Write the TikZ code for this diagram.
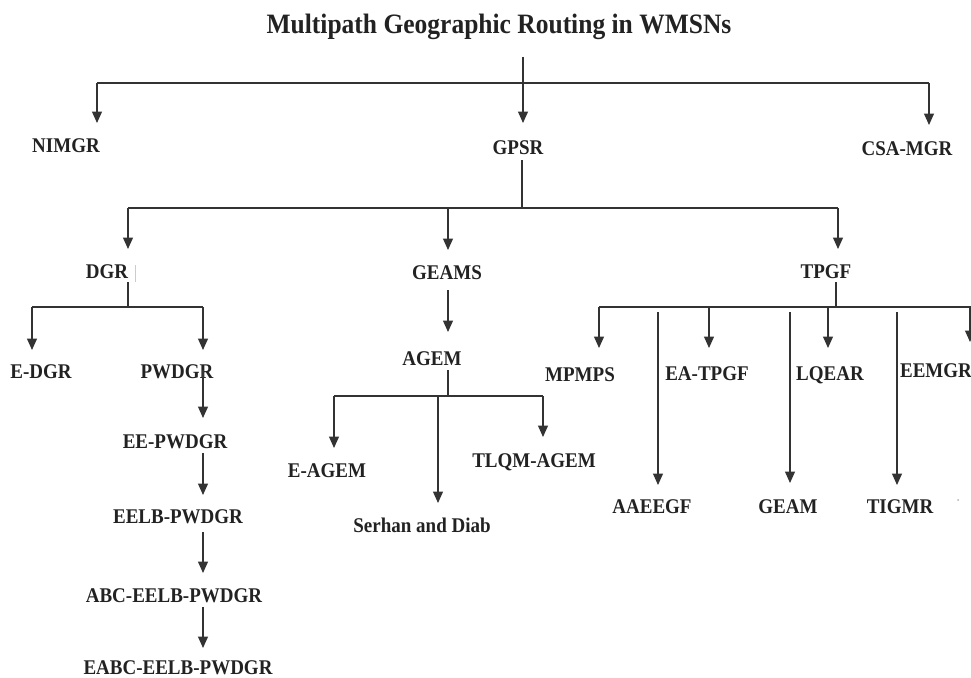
\documentclass[tikz,border=0pt]{standalone}
\usepackage{fontspec}
\setmainfont{Liberation Serif}
\usetikzlibrary{arrows.meta}
\definecolor{ink}{HTML}{222222}
\definecolor{wire}{HTML}{333333}
\newcommand{\tallbox}[1]{\scalebox{1}[1.1]{#1}}
\tikzset{
  lbl/.style={anchor=base, inner sep=0pt, text=ink, font=\fontsize{19}{19}\selectfont\bfseries},
  ttl/.style={anchor=base, inner sep=0pt, text=ink, font=\fontsize{25.5}{26}\selectfont\bfseries},
  wireline/.style={draw=wire, line width=1.3pt},
  arr/.style={wireline, -{Triangle[width=10pt,length=11.5pt]}},
}
\begin{document}
\begin{tikzpicture}[x=1pt,y=-1pt]
\fill[white] (0,0) rectangle (971,677);
\useasboundingbox (0,0) rectangle (971,677);

% ---- labels ----
\node[ttl] (title) at (499,34) {\tallbox{Multipath Geographic Routing in WMSNs}};
\node[lbl] (nimgr) at (66,152) {\tallbox{NIMGR}};
\node[lbl] (gpsr) at (518,154) {\tallbox{GPSR}};
\node[lbl] (csamgr) at (907,155) {\tallbox{CSA-MGR}};
\node[lbl] (dgr) at (107,278) {\tallbox{DGR}};
\node[lbl] (geams) at (447,279) {\tallbox{GEAMS}};
\node[lbl] (tpgf) at (826,278) {\tallbox{TPGF}};
\node[lbl] (edgr) at (41,378) {\tallbox{E-DGR}};
\node[lbl] (pwdgr) at (177,378) {\tallbox{PWDGR}};
\node[lbl] (eepwdgr) at (175,448) {\tallbox{EE-PWDGR}};
\node[lbl] (eelb) at (178,523) {\tallbox{EELB-PWDGR}};
\node[lbl] (abc) at (174,602) {\tallbox{ABC-EELB-PWDGR}};
\node[lbl] (eabc) at (178,674) {\tallbox{EABC-EELB-PWDGR}};
\node[lbl] (agem) at (432,365) {\tallbox{AGEM}};
\node[lbl] (eagem) at (327,477) {\tallbox{E-AGEM}};
\node[lbl] (tlqm) at (534,467) {\tallbox{TLQM-AGEM}};
\node[lbl] (serhan) at (422,532) {\tallbox{Serhan and Diab}};
\node[lbl] (mpmps) at (580,381) {\tallbox{MPMPS}};
\node[lbl] (eatpgf) at (707,380) {\tallbox{EA-TPGF}};
\node[lbl] (lqear) at (830,380) {\tallbox{LQEAR}};
\node[lbl] (eemgr) at (936,377) {\tallbox{EEMGR}};
\node[lbl] (aaeegf) at (652,513) {\tallbox{AAEEGF}};
\node[lbl] (geam) at (788,513) {\tallbox{GEAM}};
\node[lbl] (tigmr) at (900,513) {\tallbox{TIGMR}};

% ---- junction coordinates ----
\coordinate (r0) at (523,57);
\coordinate (rL) at (97,83);
\coordinate (rR) at (929,83);
\coordinate (tNIMGR) at (97,123);
\coordinate (tGPSR) at (523,123);
\coordinate (tCSA) at (929,125);

\coordinate (g0) at (522,160);
\coordinate (g1) at (522,208);
\coordinate (gL) at (128,208);
\coordinate (gM) at (448,208);
\coordinate (gR) at (838,208);
\coordinate (tDGR) at (128,249);
\coordinate (tGEAMS) at (448,250);
\coordinate (tTPGF) at (838,249);

\coordinate (d0) at (128,282);
\coordinate (d1) at (128,307);
\coordinate (dL) at (32,307);
\coordinate (dR) at (203,307);
\coordinate (tEDGR) at (32,350);
\coordinate (tPWDGR) at (203,350);

\coordinate (p1s) at (203,370); \coordinate (p1e) at (203,418);
\coordinate (p2s) at (203,453); \coordinate (p2e) at (203,495);
\coordinate (p3s) at (203,532); \coordinate (p3e) at (203,573);
\coordinate (p4s) at (203,607); \coordinate (p4e) at (203,648);

\coordinate (ge0) at (448,290);
\coordinate (tAGEM) at (448,332);
\coordinate (a0) at (448,370);
\coordinate (a1) at (448,396);
\coordinate (aL) at (334,396);
\coordinate (aR) at (543,396);
\coordinate (aM) at (438,396);
\coordinate (tEAGEM) at (334,448);
\coordinate (tTLQM) at (543,437);
\coordinate (tSERHAN) at (438,503);

\coordinate (t0) at (836,282);
\coordinate (t1) at (836,307);
\coordinate (tL) at (599,307);
\coordinate (tEnd) at (975,307);
\coordinate (tEA) at (709,307);
\coordinate (tLQ) at (828,307);
\coordinate (tEE) at (970,307);
\coordinate (tMPMPSa) at (599,348);
\coordinate (tEAa) at (709,348);
\coordinate (tLQa) at (828,348);
\coordinate (tEEa) at (970,342);
\coordinate (l1s) at (658,312); \coordinate (l1e) at (658,485);
\coordinate (l2s) at (790,312); \coordinate (l2e) at (790,483);
\coordinate (l3s) at (897,312); \coordinate (l3e) at (897,485);

% ---- connectors ----
\draw[arr] (r0) -- (tGPSR);
\draw[wireline] (rL) -- (rR);
\draw[arr] (rL) -- (tNIMGR);
\draw[arr] (rR) -- (tCSA);

\draw[wireline] (g0) -- (g1);
\draw[wireline] (gL) -- (gR);
\draw[arr] (gL) -- (tDGR);
\draw[arr] (gM) -- (tGEAMS);
\draw[arr] (gR) -- (tTPGF);

\draw[wireline] (d0) -- (d1);
\draw[wireline] (dL) -- (dR);
\draw[arr] (dL) -- (tEDGR);
\draw[arr] (dR) -- (tPWDGR);
\draw[arr] (p1s) -- (p1e);
\draw[arr] (p2s) -- (p2e);
\draw[arr] (p3s) -- (p3e);
\draw[arr] (p4s) -- (p4e);

\draw[arr] (ge0) -- (tAGEM);
\draw[wireline] (a0) -- (a1);
\draw[wireline] (aL) -- (aR);
\draw[arr] (aL) -- (tEAGEM);
\draw[arr] (aR) -- (tTLQM);
\draw[arr] (aM) -- (tSERHAN);

\draw[wireline] (t0) -- (t1);
\draw[wireline] (tL) -- (tEnd);
\draw[arr] (tL) -- (tMPMPSa);
\draw[arr] (tEA) -- (tEAa);
\draw[arr] (tLQ) -- (tLQa);
\draw[arr] (tEE) -- (tEEa);
\draw[arr] (l1s) -- (l1e);
\draw[arr] (l2s) -- (l2e);
\draw[arr] (l3s) -- (l3e);

% faint marks present in the picture
\coordinate (bar0) at (135,265); \coordinate (bar1) at (135,282);
\draw[gray!40, line width=0.8pt] (bar0) -- (bar1);
\coordinate (dot) at (958,500);
\fill[gray!60] (dot) circle (1pt);
\end{tikzpicture}
\end{document}
